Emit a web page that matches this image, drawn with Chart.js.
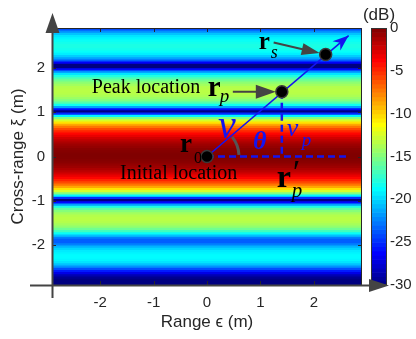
<!DOCTYPE html>
<html>
<head>
<meta charset="utf-8">
<script src="https://cdn.jsdelivr.net/npm/chart.js@4.4.0/dist/chart.umd.min.js"></script>
<style>
  html, body { margin: 0; padding: 0; background: #fff; }
  #wrap { width: 416px; height: 339px; }
</style>
</head>
<body>
<div id="wrap"><canvas id="heatChart" width="416" height="339"></canvas></div>
<script>
// cross-range of each heatmap row (m), top to bottom
const xiRows = [
    2.9, 2.85, 2.8, 2.75, 2.7, 2.65, 2.6, 2.55, 2.5, 2.45,
    2.4, 2.35, 2.3, 2.25, 2.2, 2.15, 2.1, 2.05, 2.0, 1.95,
    1.9, 1.85, 1.8, 1.75, 1.7, 1.65, 1.6, 1.55, 1.5, 1.45,
    1.4, 1.35, 1.3, 1.25, 1.2, 1.15, 1.1, 1.05, 1.0, 0.95,
    0.9, 0.85, 0.8, 0.75, 0.7, 0.65, 0.6, 0.55, 0.5, 0.45,
    0.4, 0.35, 0.3, 0.25, 0.2, 0.15, 0.1, 0.05, 0.0, -0.05,
    -0.1, -0.15, -0.2, -0.25, -0.3, -0.35, -0.4, -0.45, -0.5, -0.55,
    -0.6, -0.65, -0.7, -0.75, -0.8, -0.85, -0.9, -0.95, -1.0, -1.05,
    -1.1, -1.15, -1.2, -1.25, -1.3, -1.35, -1.4, -1.45, -1.5, -1.55,
    -1.6, -1.65, -1.7, -1.75, -1.8, -1.85, -1.9, -1.95, -2.0, -2.05,
    -2.1, -2.15, -2.2, -2.25, -2.3, -2.35, -2.4, -2.45, -2.5, -2.55,
    -2.6, -2.65, -2.7, -2.75, -2.8, -2.85, -2.9
];

// level of each row (dB)
const rowDb = [
    -26, -24, -22, -20.5, -19.5, -19, -18.5, -18.2, -18, -18,
    -18.2, -18.6, -19.2, -20.2, -21.5, -23.5, -26.5, -30, -30, -26,
    -22, -19.5, -17.8, -16.5, -15.5, -14.6, -14, -13.5, -13.3, -13.3,
    -13.4, -13.7, -14.2, -15, -16.3, -18.3, -21.5, -26, -30, -25,
    -19, -15, -12.5, -10.4, -8.7, -7.2, -5.9, -4.8, -3.9, -3.1,
    -2.4, -1.8, -1.3, -0.9, -0.6, -0.3, -0.15, -0.04, 0, -0.04,
    -0.15, -0.3, -0.6, -0.9, -1.3, -1.8, -2.4, -3.1, -3.9, -4.8,
    -5.9, -7.2, -8.7, -10.4, -12.5, -15, -19, -25, -30, -26,
    -21.5, -18, -16, -14.8, -14, -13.5, -13.3, -13.3, -13.5, -13.9,
    -14.5, -15.5, -16.8, -18.5, -20.5, -22.5, -23.5, -23.5, -22.5, -21,
    -20, -19.3, -19, -18.8, -18.8, -19, -19.5, -20.5, -22, -24,
    -25.5, -27, -28.5, -29.5, -30, -30, -30
];

const rangeSpan = [-2.9, 2.9];
const xTicks = [-2, -1, 0, 1, 2];
const xTickLabels = ['-2', '-1', '0', '1', '2'];
const yTicks = [-2, -1, 0, 1, 2];
const yTickLabels = ['-2', '-1', '0', '1', '2'];
const cbTicks = [-30, -25, -20, -15, -10, -5, 0];
const cbTickLabels = ['-30', '-25', '-20', '-15', '-10', '-5', '0'];

// marked points [range, cross-range] in m
const initialLoc = [0, 0];
const peakLoc = [1.4, 1.46];
const sourceLoc = [2.22, 2.3];
const vectorTip = [2.65, 2.73];
const rangeDashEnd = [2.6, 0];
const peakFoot = [1.4, 0];

const sansFont = 'Arial, "Liberation Sans", sans-serif';
const serifFont = '"Liberation Serif", "Times New Roman", serif';
const inkBlue = '#1414f0';
const grayInk = '#444444';

// MATLAB jet colormap, -30..0 dB
function jetColor(db) {
    const f = Math.min(1, Math.max(0, (db + 30) / 30));
    const c = v => Math.round(255 * Math.min(1, Math.max(0, v)));
    return `rgb(${c(1.5 - Math.abs(4 * f - 3))},${c(1.5 - Math.abs(4 * f - 2))},${c(1.5 - Math.abs(4 * f - 1))})`;
}

function arrowHead(ctx, x0, y0, x1, y1, len, half, color, barbed) {
    const a = Math.atan2(y1 - y0, x1 - x0);
    const cos = Math.cos(a), sin = Math.sin(a);
    const bx = x1 - len * cos, by = y1 - len * sin;
    ctx.fillStyle = color;
    ctx.beginPath();
    ctx.moveTo(x1, y1);
    ctx.lineTo(bx - half * sin, by + half * cos);
    if (barbed) ctx.lineTo(x1 - len * 0.7 * cos, y1 - len * 0.7 * sin);
    ctx.lineTo(bx + half * sin, by - half * cos);
    ctx.closePath();
    ctx.fill();
}

function text(ctx, str, x, y, font, color) {
    ctx.font = font;
    ctx.fillStyle = color;
    ctx.textAlign = 'left';
    ctx.textBaseline = 'alphabetic';
    ctx.fillText(str, x, y);
}

// fixed axis boxes, no automatic label padding
function fixBox(size) {
    return s => {
        if (s.isHorizontal()) s.height = size; else s.width = size;
        s.paddingTop = 0; s.paddingBottom = 0; s.paddingLeft = 0; s.paddingRight = 0;
    };
}

// axes box, inner ticks, arrows and the colorbar
const heatFrame = {
    id: 'heatFrame',
    afterDraw(chart) {
        const {ctx, chartArea: a, scales} = chart;
        const {x, y, cb} = scales;
        ctx.save();

        // colorbar
        const bx = cb.left + 9, bw = 16;
        for (let v = -30; v < 0; v += 0.5) {
            const yTop = cb.getPixelForValue(v + 0.5), yBot = cb.getPixelForValue(v);
            ctx.fillStyle = jetColor(v + 0.25);
            ctx.fillRect(bx, yTop, bw, yBot - yTop + 0.6);
        }
        ctx.strokeStyle = '#333';
        ctx.lineWidth = 1;
        ctx.strokeRect(bx + 0.5, cb.top + 0.5, bw - 1, cb.bottom - cb.top - 1);
        ctx.font = '17px ' + sansFont;
        ctx.fillStyle = '#262626';
        ctx.textAlign = 'center';
        ctx.textBaseline = 'middle';
        ctx.fillText('(dB)', bx + 8, 15);

        // box top/right
        ctx.strokeStyle = '#262626';
        ctx.beginPath();
        ctx.moveTo(a.left, a.top + 0.5);
        ctx.lineTo(a.right - 0.5, a.top + 0.5);
        ctx.lineTo(a.right - 0.5, a.bottom);
        ctx.stroke();

        // inward tick marks
        ctx.beginPath();
        xTicks.forEach(v => {
            const px = Math.round(x.getPixelForValue(v)) + 0.5;
            ctx.moveTo(px, a.bottom); ctx.lineTo(px, a.bottom - 4);
            ctx.moveTo(px, a.top); ctx.lineTo(px, a.top + 4);
        });
        yTicks.forEach(v => {
            const py = Math.round(y.getPixelForValue(v)) + 0.5;
            ctx.moveTo(a.left, py); ctx.lineTo(a.left + 4, py);
            ctx.moveTo(a.right, py); ctx.lineTo(a.right - 4, py);
        });
        ctx.stroke();

        // axis lines with arrows
        ctx.strokeStyle = grayInk;
        ctx.lineWidth = 2;
        ctx.beginPath();
        ctx.moveTo(30, a.bottom + 0.5);
        ctx.lineTo(a.right + 12, a.bottom + 0.5);
        ctx.moveTo(a.left + 0.5, 298);
        ctx.lineTo(a.left + 0.5, a.top - 10);
        ctx.stroke();
        arrowHead(ctx, 0, a.bottom + 0.5, a.right + 27, a.bottom + 0.5, 20, 6.5, grayInk, false);
        arrowHead(ctx, a.left + 0.5, 300, a.left + 0.5, a.top - 15, 20, 7, grayInk, false);

        ctx.restore();
    }
};

// geometry labels over the map
const sceneLabels = {
    id: 'sceneLabels',
    afterDatasetsDraw(chart) {
        const {ctx, scales: {x, y}} = chart;
        const px = p => ({x: x.getPixelForValue(p[0]), y: y.getPixelForValue(p[1])});
        const p0 = px(initialLoc), pp = px(peakLoc), ps = px(sourceLoc), pt = px(vectorTip);
        ctx.save();

        // theta arc
        ctx.strokeStyle = '#555';
        ctx.lineWidth = 3;
        ctx.beginPath();
        ctx.arc(p0.x, p0.y, 32, -38 * Math.PI / 180, -3 * Math.PI / 180);
        ctx.stroke();

        // vector arrowhead
        arrowHead(ctx, p0.x, p0.y, pt.x, pt.y, 16, 6, inkBlue, true);

        // gray pointer arrows
        ctx.strokeStyle = grayInk;
        ctx.lineWidth = 2;
        ctx.beginPath();
        ctx.moveTo(ps.x - 52, ps.y - 12); ctx.lineTo(ps.x - 20, ps.y - 4.5);
        ctx.moveTo(pp.x - 49, pp.y); ctx.lineTo(pp.x - 22, pp.y);
        ctx.stroke();
        arrowHead(ctx, ps.x - 52, ps.y - 12, ps.x - 6, ps.y - 1.5, 18, 6, grayInk, false);
        arrowHead(ctx, pp.x - 49, pp.y, pp.x - 6, pp.y, 20, 7, grayInk, false);

        // black labels
        text(ctx, 'r', ps.x - 67, ps.y - 6, 'bold 25px ' + serifFont, '#000');
        text(ctx, 's', ps.x - 55, ps.y + 3, 'italic 18px ' + serifFont, '#000');
        text(ctx, 'Peak location', pp.x - 190, pp.y + 1, '20px ' + serifFont, '#000');
        text(ctx, 'r', pp.x - 74, pp.y + 4, 'bold 29px ' + serifFont, '#000');
        text(ctx, 'p', pp.x - 62, pp.y + 10, 'italic 19px ' + serifFont, '#000');
        text(ctx, 'r', p0.x - 27, p0.y - 5, 'bold 27px ' + serifFont, '#000');
        text(ctx, '0', p0.x - 13, p0.y + 6, '16px ' + serifFont, '#000');
        text(ctx, 'Initial location', p0.x - 87, p0.y + 22, '20px ' + serifFont, '#000');
        text(ctx, 'r', pp.x - 5, p0.y + 30, 'bold 32px ' + serifFont, '#000');
        text(ctx, '\u2032', pp.x + 9, p0.y + 26, 'italic 34px ' + serifFont, '#000');
        text(ctx, 'p', pp.x + 10, p0.y + 40, 'italic 21px ' + serifFont, '#000');

        // blue labels
        text(ctx, '\u03bd', p0.x + 11, p0.y - 19, 'italic 40px ' + serifFont, inkBlue);
        text(ctx, '\u03b8', p0.x + 46, p0.y - 8, 'bold italic 26px ' + serifFont, inkBlue);
        text(ctx, '\u03bd', pp.x + 5, p0.y - 21, 'italic 26px ' + serifFont, inkBlue);
        text(ctx, 'p', pp.x + 20, p0.y - 11, 'italic 19px ' + serifFont, inkBlue);

        ctx.restore();
    }
};

const toPoint = p => ({x: p[0], y: p[1]});

const ctx = document.getElementById('heatChart').getContext('2d');
const heatChart = new Chart(ctx, {
    type: 'bar',
    data: {
        datasets: [
            {
                type: 'scatter',
                label: 'locations',
                data: [initialLoc, peakLoc, sourceLoc].map(toPoint),
                pointRadius: 6,
                pointBackgroundColor: '#000',
                pointBorderColor: '#3a3a3a',
                pointBorderWidth: 1.5,
                order: 0
            },
            {
                type: 'line',
                label: 'velocity',
                data: [initialLoc, vectorTip].map(toPoint),
                borderColor: inkBlue,
                borderWidth: 1.6,
                pointRadius: 0,
                order: 1
            },
            {
                type: 'line',
                label: 'range projection',
                data: [initialLoc, rangeDashEnd].map(toPoint),
                borderColor: inkBlue,
                borderWidth: 2.5,
                borderDash: [7, 4],
                pointRadius: 0,
                order: 2
            },
            {
                type: 'line',
                label: 'cross-range projection',
                data: [peakLoc, peakFoot].map(toPoint),
                borderColor: inkBlue,
                borderWidth: 2.5,
                borderDash: [7, 4],
                pointRadius: 0,
                order: 2
            },
            {
                type: 'bar',
                label: 'power',
                indexAxis: 'y',
                data: xiRows.map(xi => ({y: xi, x: rangeSpan})),
                backgroundColor: rowDb.map(jetColor),
                borderWidth: 0,
                barThickness: 3,
                order: 10
            }
        ]
    },
    options: {
        responsive: false,
        animation: false,
        events: [],
        layout: { padding: { top: 28, left: 0, right: 0, bottom: 0 } },
        plugins: { legend: { display: false }, tooltip: { enabled: false } },
        scales: {
            x: {
                type: 'linear',
                position: 'bottom',
                min: rangeSpan[0],
                max: rangeSpan[1],
                offset: false,
                grid: { display: false, drawTicks: false },
                border: { display: false },
                afterFit: fixBox(54),
                afterBuildTicks: s => { s.ticks = xTicks.map(v => ({value: v})); },
                ticks: {
                    padding: 9,
                    color: '#262626',
                    font: { family: sansFont, size: 15 },
                    callback: (v, i) => xTickLabels[i]
                },
                title: {
                    display: true,
                    text: 'Range \u03f5 (m)',
                    color: '#262626',
                    font: { family: sansFont, size: 17 },
                    padding: { top: 6, bottom: 6 }
                }
            },
            y: {
                type: 'linear',
                position: 'left',
                min: -2.9,
                max: 2.9,
                offset: false,
                grid: { display: false, drawTicks: false },
                border: { display: false },
                afterFit: fixBox(52),
                afterBuildTicks: s => { s.ticks = yTicks.map(v => ({value: v})); },
                ticks: {
                    padding: 7,
                    color: '#262626',
                    font: { family: sansFont, size: 15 },
                    callback: (v, i) => yTickLabels[i]
                },
                title: {
                    display: true,
                    text: 'Cross-range \u03be (m)',
                    color: '#262626',
                    font: { family: sansFont, size: 17 },
                    padding: { top: 8, bottom: 8 }
                }
            },
            cb: {
                type: 'linear',
                position: 'right',
                min: -30,
                max: 0,
                grid: { display: false, drawTicks: false },
                border: { display: false },
                afterFit: fixBox(54),
                afterBuildTicks: s => { s.ticks = cbTicks.map(v => ({value: v})); },
                ticks: {
                    padding: 28,
                    color: '#262626',
                    font: { family: sansFont, size: 15 },
                    callback: (v, i) => cbTickLabels[i]
                }
            }
        }
    },
    plugins: [heatFrame, sceneLabels]
});
</script>
</body>
</html>
